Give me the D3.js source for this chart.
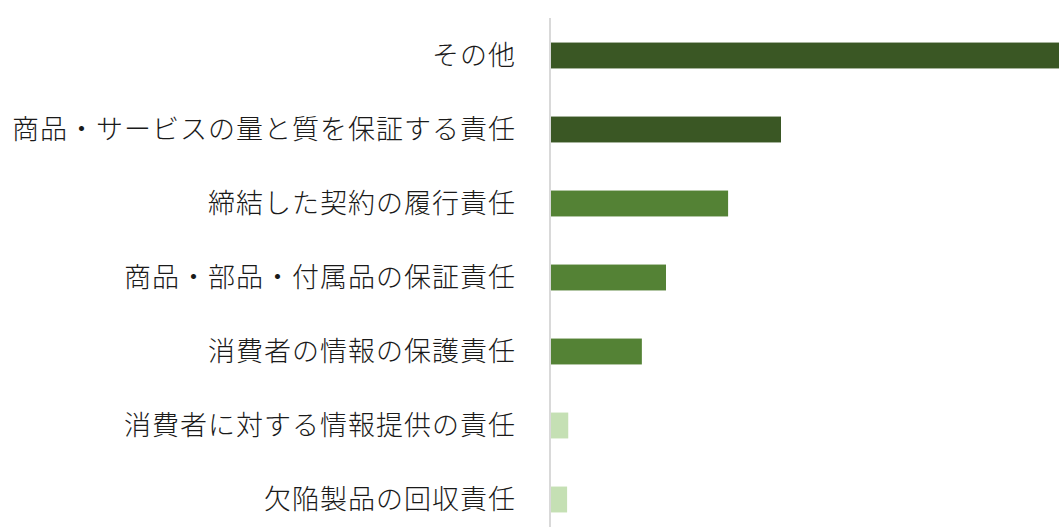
<!DOCTYPE html>
<html lang="ja">
<head>
<meta charset="utf-8">
<script src="https://cdn.jsdelivr.net/npm/d3@7"></script>
<style>
  html, body { margin: 0; padding: 0; background: #fff; }
  svg { display: block; }
</style>
</head>
<body>
<svg id="chart" width="1059" height="527"></svg>
<script>
// Categories, top to bottom
const categories = [
  "その他",
  "商品・サービスの量と質を保証する責任",
  "締結した契約の履行責任",
  "商品・部品・付属品の保証責任",
  "消費者の情報の保護責任",
  "消費者に対する情報提供の責任",
  "欠陥製品の回収責任"
];
// Share of responses (%)
const values = [45.0, 20.0, 15.4, 10.0, 7.9, 1.5, 1.4];
// Colour tier per bar
const tiers = ["dark", "dark", "mid", "mid", "mid", "light", "light"];
const tierColor = { dark: "#3A5724", mid: "#548235", light: "#C5E0B4" };

const svg = d3.select("#chart");
const W = 1059, H = 527;

const y = d3.scaleBand()
  .domain(categories)
  .range([18.5, 536.5])
  .paddingInner(0.65)
  .paddingOuter(0.325);

const x = d3.scaleLinear()
  .domain([0, 10])
  .range([551, 666]);

// bars
svg.append("g")
  .selectAll("rect")
  .data(categories)
  .join("rect")
  .attr("x", x(0))
  .attr("y", d => y(d))
  .attr("width", (d, i) => x(values[i]) - x(0))
  .attr("height", y.bandwidth())
  .attr("fill", (d, i) => tierColor[tiers[i]]);

// category axis (line only, labels drawn to the left)
const axis = d3.axisLeft(y).tickSize(0).tickPadding(34);
const gAxis = svg.append("g")
  .attr("transform", `translate(${x(0) - 1},0)`)
  .call(axis);
gAxis.select(".domain")
  .attr("d", `M0,18V${H}`)
  .attr("stroke", "#D9D9D9")
  .attr("stroke-width", 2);
gAxis.selectAll(".tick text")
  .attr("font-family", "'Noto Sans CJK JP', sans-serif")
  .attr("font-weight", 300)
  .attr("font-size", 27)
  .attr("letter-spacing", 1)
  .attr("fill", "#1a1a1a")
  .attr("dy", "0.35em");
</script>
</body>
</html>
